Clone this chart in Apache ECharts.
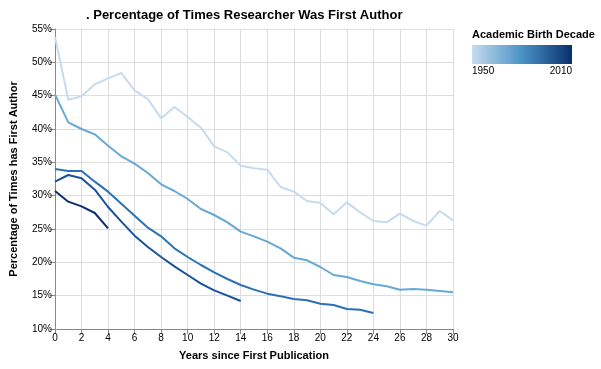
<!DOCTYPE html>
<html>
<head>
<meta charset="utf-8">
<script src="https://cdn.jsdelivr.net/npm/echarts@6/dist/echarts.min.js"></script>
<style>
  html, body { margin: 0; padding: 0; background: #fff; }
  #chart { width: 601px; height: 369px; }
</style>
</head>
<body>
<div id="chart"></div>
<script>
  // years since first publication
  var years = [0,1,2,3,4,5,6,7,8,9,10,11,12,13,14,15,16,17,18,19,20,21,22,23,24,25,26,27,28,29,30];

  // percentage of times first author, one array per academic birth decade
  var decade1970 = [53.8,44.4,44.9,46.7,47.6,48.4,45.8,44.5,41.6,43.3,41.8,40.2,37.4,36.5,34.5,34.1,33.9,31.3,30.6,29.2,28.9,27.2,29.0,27.5,26.2,26.0,27.3,26.2,25.5,27.7,26.3];
  var decade1980 = [45.2,41.0,40.0,39.2,37.5,35.9,34.8,33.4,31.7,30.7,29.5,28.0,27.1,26.0,24.6,23.9,23.1,22.1,20.7,20.3,19.3,18.1,17.8,17.2,16.7,16.4,15.9,16.0,15.9,15.7,15.5];
  var decade1990 = [34.0,33.7,33.7,32.1,30.6,28.8,27.0,25.2,23.9,22.1,20.8,19.6,18.5,17.5,16.6,15.9,15.3,14.9,14.5,14.3,13.8,13.6,13.0,12.9,12.4];
  var decade2000 = [32.1,33.1,32.6,30.9,28.3,26.1,24.0,22.3,20.8,19.4,18.1,16.8,15.8,15.0,14.2];
  var decade2010 = [30.7,29.1,28.4,27.4,25.1];

  var decades = ['1970', '1980', '1990', '2000', '2010'];
  var values = [decade1970, decade1980, decade1990, decade2000, decade2010];
  var colors = ['#c6dbef', '#65a9d4', '#2a72b7', '#1a519b', '#0c2f6b'];

  var xTicks = [0, 30, 2];   // min, max, interval
  var yTicks = [10, 55, 5];

  var chart = echarts.init(document.getElementById('chart'));

  var series = decades.map(function (d, i) {
    return {
      name: d,
      type: 'line',
      data: values[i].map(function (v, k) { return [years[k], v]; }),
      showSymbol: false,
      symbol: 'none',
      lineStyle: { color: colors[i], width: 2 },
      itemStyle: { color: colors[i] },
      animation: false
    };
  });

  chart.setOption({
    animation: false,
    title: {
      text: '. Percentage of Times Researcher Was First Author',
      left: 81,
      top: 4,
      textStyle: { fontFamily: 'Liberation Sans', fontWeight: 'bold', fontSize: 13, color: '#000' }
    },
    grid: { left: 54, right: 148, top: 29, bottom: 40 },
    xAxis: {
      type: 'value',
      min: xTicks[0], max: xTicks[1], interval: xTicks[2],
      name: 'Years since First Publication',
      nameLocation: 'middle',
      nameGap: 21,
      nameTextStyle: { fontFamily: 'Liberation Sans', fontWeight: 'bold', fontSize: 11, color: '#000' },
      axisLine: { lineStyle: { color: '#888', width: 1 } },
      axisTick: { show: true, length: 5, lineStyle: { color: '#888' } },
      axisLabel: { fontFamily: 'Liberation Sans', fontSize: 10, color: '#000', margin: 4 },
      splitLine: { show: true, lineStyle: { color: '#ddd', width: 1 } }
    },
    yAxis: {
      type: 'value',
      min: yTicks[0], max: yTicks[1], interval: yTicks[2],
      name: 'Percentage of Times has First Author',
      nameLocation: 'middle',
      nameGap: 36,
      nameTextStyle: { fontFamily: 'Liberation Sans', fontWeight: 'bold', fontSize: 11, color: '#000' },
      axisLine: { show: true, lineStyle: { color: '#888', width: 1 } },
      axisTick: { show: true, length: 5, lineStyle: { color: '#888' } },
      axisLabel: { fontFamily: 'Liberation Sans', fontSize: 10, color: '#000', margin: 3, formatter: '{value}%' },
      splitLine: { show: true, lineStyle: { color: '#ddd', width: 1 } }
    },
    graphic: [
      {
        type: 'text', left: 472, top: 29,
        style: { text: 'Academic Birth Decade', font: 'bold 11px Liberation Sans', fill: '#000' }
      },
      {
        type: 'rect', left: 472, top: 45,
        shape: { width: 100, height: 19 },
        style: {
          fill: new echarts.graphic.LinearGradient(0, 0, 1, 0, [
            { offset: 0, color: '#c6dbef' },
            { offset: 0.5, color: '#4a92c6' },
            { offset: 1, color: '#08306b' }
          ])
        }
      },
      {
        type: 'text', left: 472, top: 66,
        style: { text: '1950', font: '10px Liberation Sans', fill: '#000' }
      },
      {
        type: 'text', right: 29, top: 66,
        style: { text: '2010', font: '10px Liberation Sans', fill: '#000' }
      }
    ],
    series: series
  });
</script>
</body>
</html>
